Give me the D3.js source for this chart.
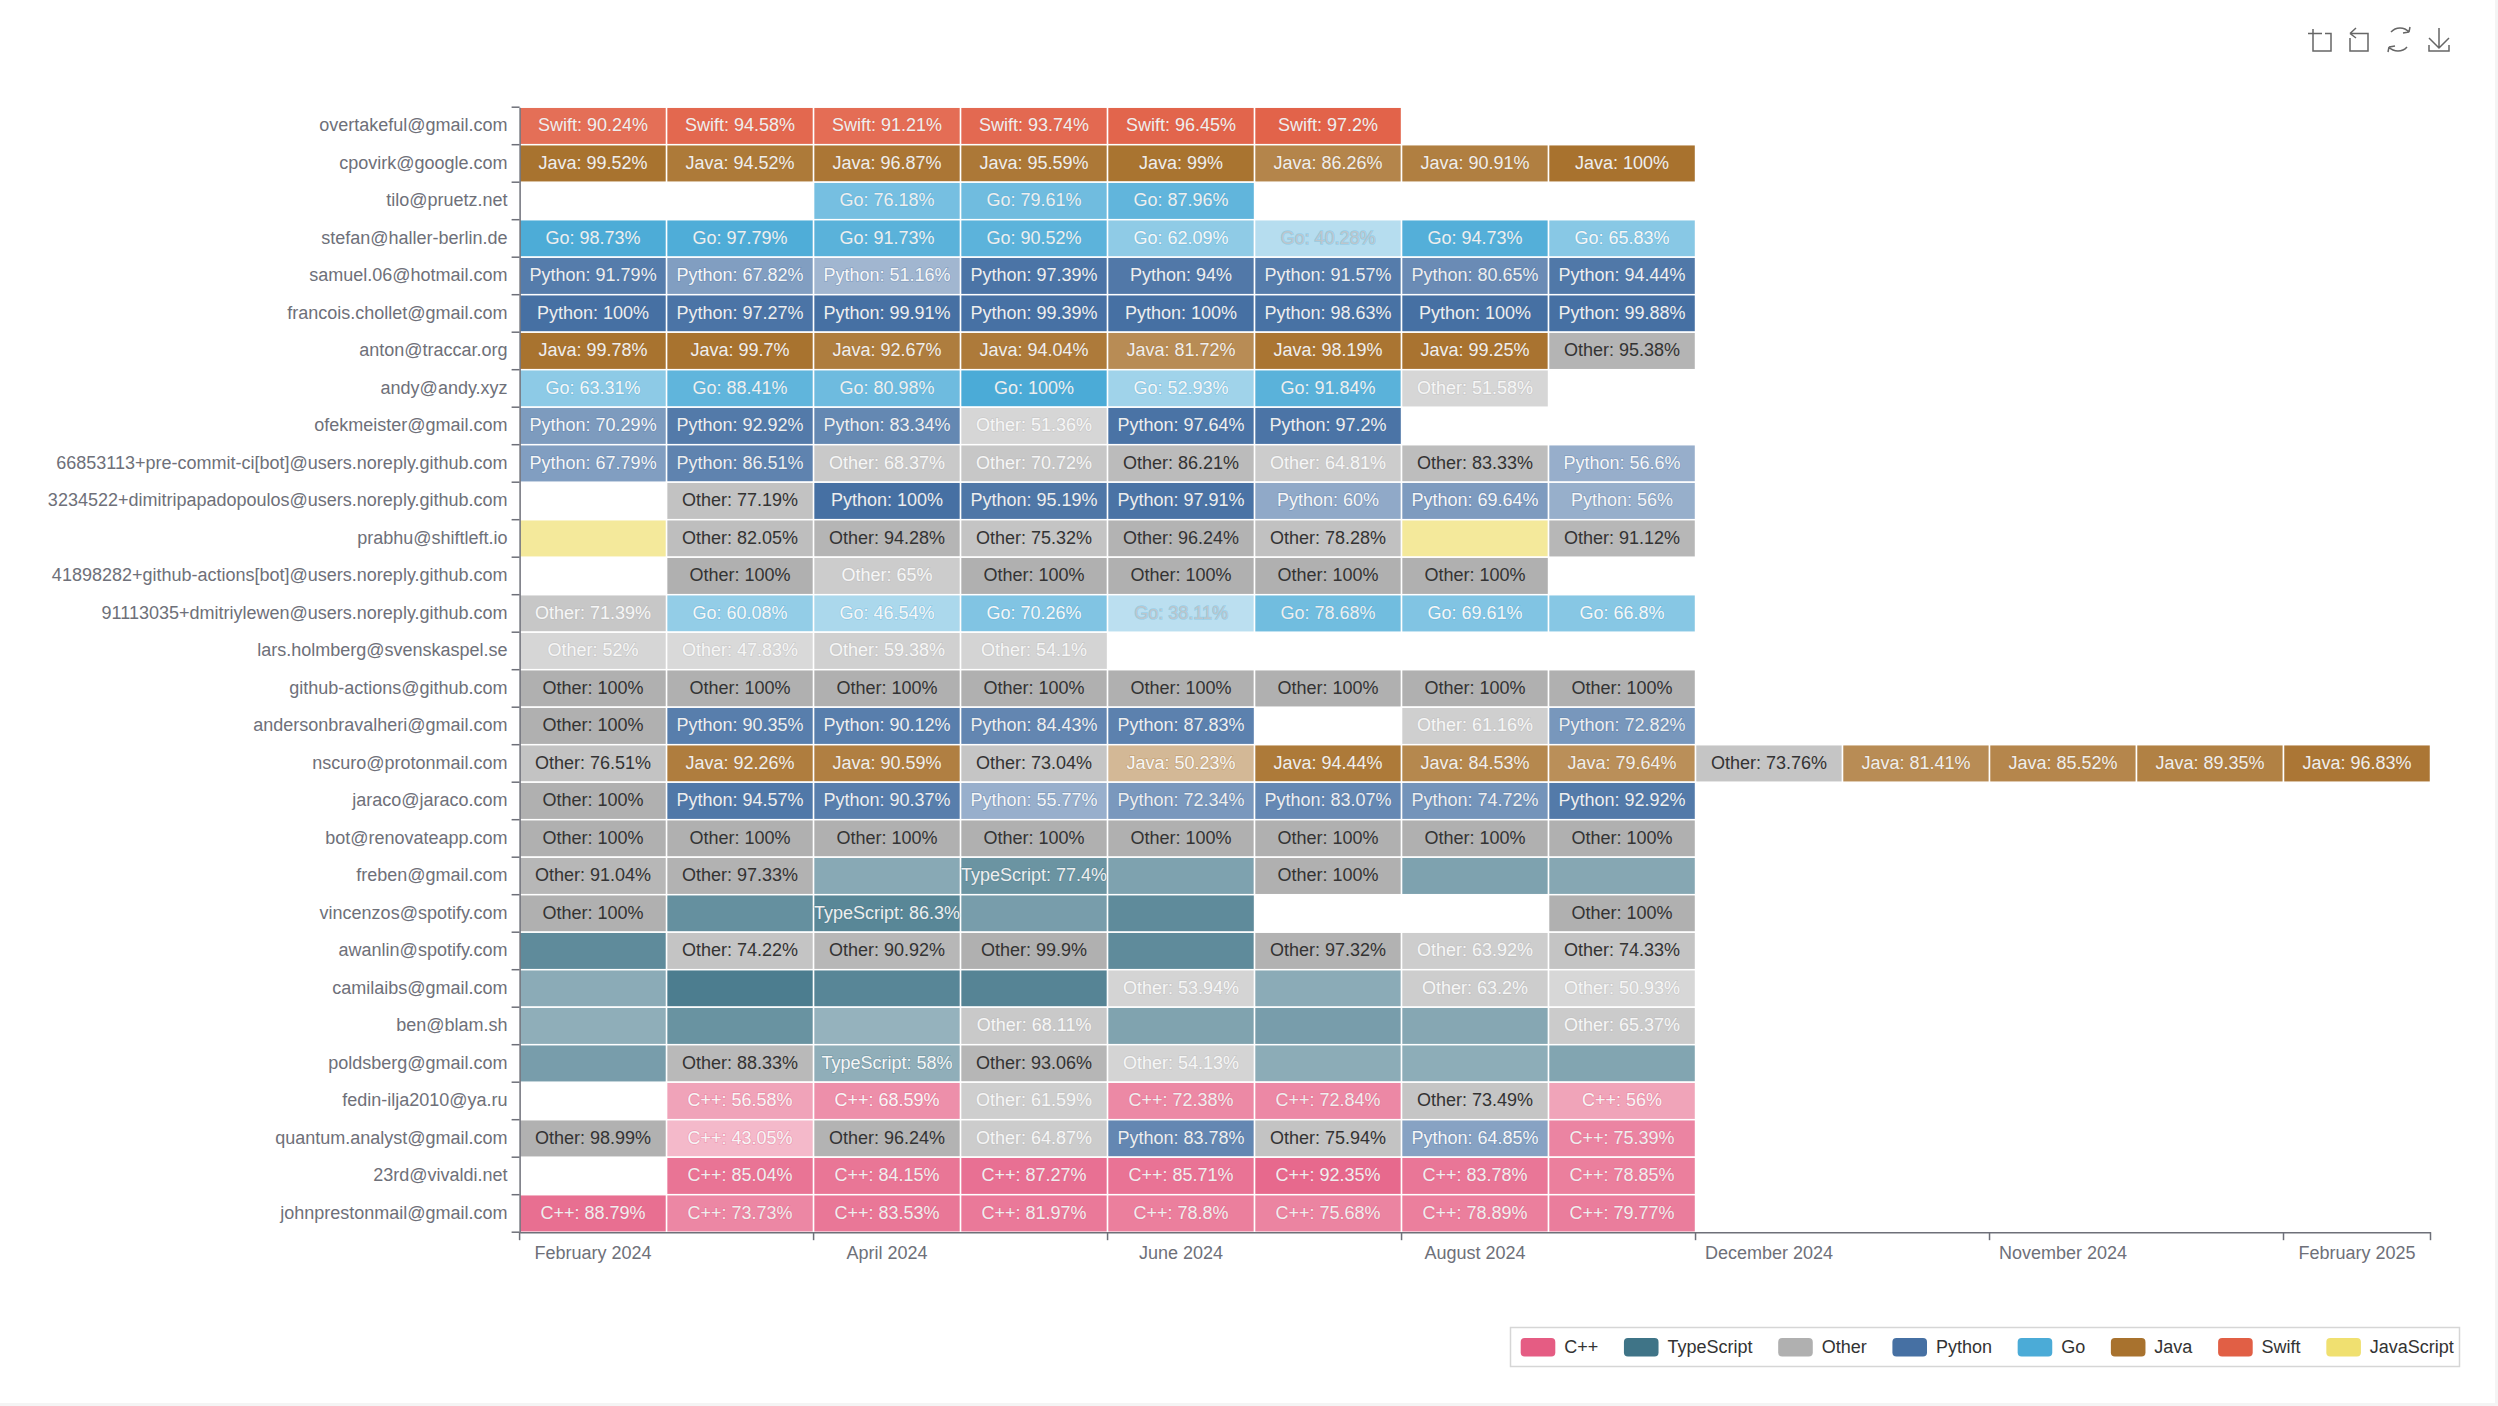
<!DOCTYPE html>
<html>
<head>
<meta charset="utf-8">
<script src="https://cdn.jsdelivr.net/npm/d3@7"></script>
<style>
  html, body { margin: 0; padding: 0; background: #fff; }
  svg { display: block; }
  text { font-family: "Liberation Sans", Arial, sans-serif; }
</style>
</head>
<body>
<svg id="chart" width="2498" height="1406"></svg>
<script>
const contributors = [
  'overtakeful@gmail.com', 'cpovirk@google.com', 'tilo@pruetz.net', 'stefan@haller-berlin.de',
  'samuel.06@hotmail.com', 'francois.chollet@gmail.com', 'anton@traccar.org', 'andy@andy.xyz',
  'ofekmeister@gmail.com', '66853113+pre-commit-ci[bot]@users.noreply.github.com',
  '3234522+dimitripapadopoulos@users.noreply.github.com', 'prabhu@shiftleft.io',
  '41898282+github-actions[bot]@users.noreply.github.com', '91113035+dmitriylewen@users.noreply.github.com',
  'lars.holmberg@svenskaspel.se', 'github-actions@github.com', 'andersonbravalheri@gmail.com',
  'nscuro@protonmail.com', 'jaraco@jaraco.com', 'bot@renovateapp.com', 'freben@gmail.com',
  'vincenzos@spotify.com', 'awanlin@spotify.com', 'camilaibs@gmail.com', 'ben@blam.sh',
  'poldsberg@gmail.com', 'fedin-ilja2010@ya.ru', 'quantum.analyst@gmail.com', '23rd@vivaldi.net',
  'johnprestonmail@gmail.com'
];

const months = [
  'February 2024', 'March 2024', 'April 2024', 'May 2024', 'June 2024', 'July 2024', 'August 2024',
  'September 2024', 'December 2024', 'October 2024', 'November 2024', 'January 2025', 'February 2025'
];

const languages = ['C++', 'TypeScript', 'Other', 'Python', 'Go', 'Java', 'Swift', 'JavaScript'];
const languageColors = ['#e55c83', '#3f7487', '#b0b0b0', '#4670a3', '#4babd7', '#a8722e', '#e15f45', '#f0e070'];

// one short code per month, '-' means no commits that month
const codes = { C: 'C++', T: 'TypeScript', O: 'Other', P: 'Python', G: 'Go', J: 'Java', S: 'Swift', N: 'JavaScript' };

const cellLanguages = [
  'SSSSSS', 'JJJJJJJJ', '--GGG', 'GGGGGGGG', 'PPPPPPPP', 'PPPPPPPP', 'JJJJJJJO', 'GGGGGGO',
  'PPPOPP', 'PPOOOOOP', '-OPPPPPP', 'NOOOOONO', '-OOOOOO', 'OGGGGGGG', 'OOOO', 'OOOOOOOO',
  'OPPPP-OP', 'OJJOJJJJOJJJJ', 'OPPPPPPP', 'OOOOOOOO', 'OOTTTOTT', 'OTTTT--O', 'TOOOTOOO',
  'TTTTOTOO', 'TTTOTTTO', 'TOTOOTTT', '-CCOCCOC', 'OCOOPOPC', '-CCCCCCC', 'CCCCCCCC'
];

// values with two decimals on the TypeScript/JavaScript cells with no label are estimates from the shade
const cellValues = [
  [90.24, 94.58, 91.21, 93.74, 96.45, 97.2],
  [99.52, 94.52, 96.87, 95.59, 99, 86.26, 90.91, 100],
  [null, null, 76.18, 79.61, 87.96],
  [98.73, 97.79, 91.73, 90.52, 62.09, 40.28, 94.73, 65.83],
  [91.79, 67.82, 51.16, 97.39, 94, 91.57, 80.65, 94.44],
  [100, 97.27, 99.91, 99.39, 100, 98.63, 100, 99.88],
  [99.78, 99.7, 92.67, 94.04, 81.72, 98.19, 99.25, 95.38],
  [63.31, 88.41, 80.98, 100, 52.93, 91.84, 51.58],
  [70.29, 92.92, 83.34, 51.36, 97.64, 97.2],
  [67.79, 86.51, 68.37, 70.72, 86.21, 64.81, 83.33, 56.6],
  [null, 77.19, 100, 95.19, 97.91, 60, 69.64, 56],
  [70.25, 82.05, 94.28, 75.32, 96.24, 78.28, 70.25, 91.12],
  [null, 100, 65, 100, 100, 100, 100],
  [71.39, 60.08, 46.54, 70.26, 38.11, 78.68, 69.61, 66.8],
  [52, 47.83, 59.38, 54.1],
  [100, 100, 100, 100, 100, 100, 100, 100],
  [100, 90.35, 90.12, 84.43, 87.83, null, 61.16, 72.82],
  [76.51, 92.26, 90.59, 73.04, 50.23, 94.44, 84.53, 79.64, 73.76, 81.41, 85.52, 89.35, 96.83],
  [100, 94.57, 90.37, 55.77, 72.34, 83.07, 74.72, 92.92],
  [100, 100, 100, 100, 100, 100, 100, 100],
  [91.04, 97.33, 62.15, 77.4, 67.25, 100, 67.15, 63.25],
  [100, 80.15, 86.3, 70.25, 83.15, null, null, 100],
  [83.25, 74.22, 90.92, 99.9, 83.15, 97.32, 63.92, 74.33],
  [60.25, 93.15, 87.25, 88.15, 53.94, 60.35, 63.2, 50.93],
  [58.25, 78.15, 55.25, 68.11, 66.25, 70.15, 63.15, 65.37],
  [70.15, 88.33, 58, 93.06, 54.13, 60.15, 59.25, 65.15],
  [null, 56.58, 68.59, 61.59, 72.38, 72.84, 73.49, 56],
  [98.99, 43.05, 96.24, 64.87, 83.78, 75.94, 64.85, 75.39],
  [null, 85.04, 84.15, 87.27, 85.71, 92.35, 83.78, 78.85],
  [88.79, 73.73, 83.53, 81.97, 78.8, 75.68, 78.89, 79.77]
];

const svg = d3.select('#chart');
const margin = { left: 519.6, top: 107.2, right: 2430.5, bottom: 1232.2 };
const axisColor = '#6e7079';

const x = d3.scaleBand().domain(months).range([margin.left, margin.right]);
const y = d3.scaleBand().domain(contributors).range([margin.top, margin.bottom]);
const color = d3.scaleOrdinal().domain(languages).range(languageColors);

// flatten to one record per non empty cell
const cells = [];
contributors.forEach((who, r) => {
  cellValues[r].forEach((value, c) => {
    if (value !== null) {
      cells.push({ who, month: months[c], value, lang: codes[cellLanguages[r][c]] });
    }
  });
});

// light gutter the screenshot has at the right and bottom of the page
svg.append('rect').attr('x', 2495).attr('width', 3).attr('height', 1406).attr('fill', '#f4f4f4');
svg.append('rect').attr('y', 1403).attr('width', 2498).attr('height', 3).attr('fill', '#f4f4f4');

svg.append('g').selectAll('rect')
  .data(cells)
  .enter()
  .append('rect')
  .attr('x', d => x(d.month))
  .attr('y', d => y(d.who))
  .attr('width', x.bandwidth())
  .attr('height', y.bandwidth())
  .attr('fill', d => color(d.lang))
  .attr('fill-opacity', d => d.value / 100)
  .attr('stroke', '#fff')
  .attr('stroke-width', 1.5);

const isDarkLabel = d => d.lang === 'Other' && d.value >= 72.9;

// dark text only on the solid greys, the faintest cells fade to a grey label
function labelFill(d) {
  if (isDarkLabel(d)) return '#333';
  if (d.value < 42) return '#bcc6cc';
  return d.value < 72 ? '#f6f6f6' : '#eee';
}

const labels = svg.append('g').selectAll('text')
  .data(cells)
  .enter()
  .append('text')
  .attr('x', d => x(d.month) + x.bandwidth() / 2)
  .attr('y', d => y(d.who) + y.bandwidth() / 2)
  .attr('dy', '0.3em')
  .attr('text-anchor', 'middle')
  .attr('font-size', 18)
  .attr('fill', labelFill)
  // soft halo in the cell colour
  .attr('stroke', d => color(d.lang))
  .attr('stroke-opacity', d => isDarkLabel(d) ? 0 : 0.3)
  .attr('stroke-width', 1.5)
  .attr('paint-order', 'stroke')
  .text(d => `${d.lang}: ${d.value}%`);

// same rule as the chart: a label wider than its cell is not shown
labels.filter(function () { return this.getComputedTextLength() > x.bandwidth(); }).remove();

const yAxis = d3.axisLeft(y).tickSize(8).tickPadding(4).tickSizeOuter(0);
const xAxis = d3.axisBottom(x)
  .tickValues(months.filter((m, i) => i % 2 === 0))
  .tickSize(8).tickPadding(6).tickSizeOuter(0);

function styleAxis(g) {
  g.selectAll('.domain').attr('stroke', axisColor).attr('stroke-width', 1.5);
  g.selectAll('.tick line').attr('stroke', axisColor).attr('stroke-width', 1.5);
  g.selectAll('text').attr('fill', axisColor).attr('font-size', 18)
    .attr('font-family', '"Liberation Sans", Arial, sans-serif');
}

const gy = svg.append('g').attr('transform', `translate(${margin.left},0)`).call(yAxis).call(styleAxis);
// ticks sit on the band edges, labels stay in the middle
gy.selectAll('.tick line').attr('y1', -y.bandwidth() / 2).attr('y2', -y.bandwidth() / 2);
gy.selectAll('.tick text').attr('dy', '0.3em');
gy.append('line').attr('x2', -8).attr('y1', margin.bottom).attr('y2', margin.bottom)
  .attr('stroke', axisColor).attr('stroke-width', 1.5);

const gx = svg.append('g').attr('transform', `translate(0,${margin.bottom})`).call(xAxis).call(styleAxis);
gx.selectAll('.tick line').attr('x1', -x.bandwidth() / 2).attr('x2', -x.bandwidth() / 2);
gx.append('line').attr('x1', margin.right).attr('x2', margin.right).attr('y2', 8)
  .attr('stroke', axisColor).attr('stroke-width', 1.5);

// legend
const legend = svg.append('g');
legend.append('rect').attr('x', 1510.5).attr('y', 1327.5).attr('width', 949).attr('height', 39)
  .attr('fill', '#fff').attr('stroke', '#d6d6d6').attr('stroke-width', 1.5);

let legendX = 1520.7;
languages.forEach(lang => {
  legend.append('rect').attr('x', legendX).attr('y', 1338).attr('width', 34.6).attr('height', 18.5)
    .attr('rx', 4).attr('fill', color(lang));
  const label = legend.append('text').attr('x', legendX + 43.5).attr('y', 1347).attr('dy', '0.33em')
    .attr('font-size', 18).attr('fill', '#333').text(lang);
  legendX += 43.5 + label.node().getComputedTextLength() + 25.7;
});

// toolbox icons, top right
const toolbox = svg.append('g').attr('fill', 'none').attr('stroke', '#666').attr('stroke-width', 1.5);
toolbox.append('path').attr('d', 'M2308 33.5H2322M2313 29V38M2313 38V51H2331V33.5H2325');
toolbox.append('path').attr('d', 'M2350 33.5H2368V51H2350V38M2350 33.5L2356 28M2350 33.5L2356 38');
toolbox.append('path').attr('d', 'M2391 32A12 12 0 0 1 2409 32M2409 32L2403 33M2409 32L2410 27');
toolbox.append('path').attr('d', 'M2407 47A12 12 0 0 1 2389 47M2389 47L2395 46M2389 47L2388 52');
toolbox.append('path').attr('d', 'M2439 28V48M2429 38L2439 48L2449 38M2429 45V51H2449V45');
</script>
</body>
</html>
